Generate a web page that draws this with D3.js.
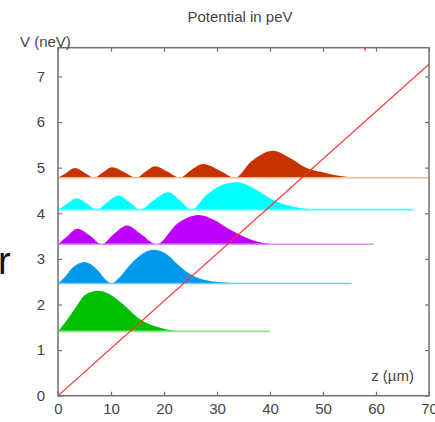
<!DOCTYPE html>
<html>
<head>
<meta charset="UTF-8">
<title>Potential in peV</title>
<script src="https://d3js.org/d3.v7.min.js"></script>
<style>
    body { margin: 0; background: #fff; }
    text { font-family: "Liberation Sans", Arial, sans-serif; fill: #444; }
    .tick text { font-size: 15px; fill: #444; }
</style>
</head>
<body>
<div id="chart"></div>
<script>
    // energy levels (baselines) and colours of the five states
    const levels = [1.41, 2.46, 3.32, 4.08, 4.78];
    const fillColors = ["#00c000", "#0099ee", "#c000ff", "#00ffff", "#c83200"];
    const lineColors = ["#8fe08f", "#80c4ff", "#e08cff", "#4dffff", "#f4b896"];
    // where the thin baseline of each state ends (z, µm)
    const lineEnds = [40, 55.4, 59.5, 67, 70];

    // probability density: [z, height above baseline]
    const state1 = [[0,0],[1.3,0.19],[3.2,0.5],[5.1,0.8],[7.6,0.89],[10,0.8],[12,0.62],[15.2,0.29],[18.3,0.11],[20.5,0.04],[22.4,0.01]];
    const state2 = [[0,0],[1.2,0.13],[2.6,0.33],[5,0.47],[7.4,0.3],[9,0.08],[10.1,0],[11.5,0.12],[14,0.46],[18,0.74],[21,0.6],[22.3,0.45],[24.6,0.23],[27,0.1],[29,0.05],[31.5,0.02],[33.7,0.005]];
    const state3 = [[0,0],[1.6,0.16],[3.7,0.34],[6,0.19],[8.2,0],[10.5,0.22],[13,0.41],[15.8,0.21],[18.6,0],[22.5,0.45],[26.5,0.64],[29.5,0.53],[32,0.35],[35,0.17],[37.5,0.06],[40,0.01]];
    const state4 = [[0,0],[1.6,0.12],[3.5,0.25],[5.5,0.13],[7.3,0],[9.3,0.16],[11.4,0.31],[13.5,0.16],[15.5,0],[18,0.2],[20.8,0.38],[23,0.2],[25.2,0],[28,0.32],[30.5,0.52],[33.8,0.6],[37.5,0.43],[40.6,0.21],[43.8,0.08],[46,0.03],[48.5,0.005]];
    const state5 = [[0,0],[1.5,0.1],[3.2,0.21],[5,0.11],[6.8,0],[8.5,0.12],[10.2,0.23],[12.5,0.12],[14.8,0],[16.5,0.13],[18.3,0.25],[20.7,0.13],[23,0],[25,0.16],[27.4,0.3],[30.5,0.16],[33.4,0],[36.5,0.36],[40.6,0.59],[43.5,0.45],[46.9,0.21],[50.7,0.1],[53,0.04],[55,0.01]];
    const states = [state1, state2, state3, state4, state5];

    // gravitational potential V = m g z
    const potential = [[0, 0], [70, 7.27]];
    const strayMark = [[57.8, 7.66], [58.0, 7.57]];

    const xTicks = [0, 10, 20, 30, 40, 50, 60, 70];
    const yTicks = [0, 1, 2, 3, 4, 5, 6, 7];

    const W = 435, H = 422;
    const mLeft = 58, mRight = 429, mTop = 47.7, mBottom = 395.7;

    const svg = d3.select("#chart").append("svg")
        .attr("width", W).attr("height", H);

    const x = d3.scaleLinear().domain([0, 70]).range([mLeft, mRight]);
    const y = d3.scaleLinear().domain([0, 7.63]).range([mBottom, mTop]);

    svg.append("clipPath").attr("id", "plot")
        .append("rect")
        .attr("x", mLeft).attr("y", mTop)
        .attr("width", mRight - mLeft).attr("height", mBottom - mTop);

    const plot = svg.append("g").attr("clip-path", "url(#plot)");

    // wavefunction bands
    states.forEach((pts, i) => {
        const base = levels[i];
        const area = d3.area()
            .x(d => x(d[0]))
            .y0(y(base))
            .y1(d => y(base + d[1]))
            .curve(d3.curveMonotoneX);
        plot.append("path")
            .datum(pts)
            .attr("d", area)
            .attr("fill", fillColors[i]);
        plot.append("line")
            .attr("x1", x(0)).attr("x2", x(lineEnds[i]))
            .attr("y1", y(base)).attr("y2", y(base))
            .attr("stroke", lineColors[i])
            .attr("stroke-width", 1.6);
    });

    // potential line
    const line = d3.line().x(d => x(d[0])).y(d => y(d[1]));
    plot.append("path")
        .datum(potential)
        .attr("d", line)
        .attr("fill", "none")
        .attr("stroke", "#ff3030")
        .attr("stroke-width", 1.2);
    plot.append("path")
        .datum(strayMark)
        .attr("d", line)
        .attr("fill", "none")
        .attr("stroke", "#ff2020")
        .attr("stroke-width", 1.5);

    // axes, ticks pointing inward
    const axisColor = "#707070";
    function styleAxis(g) {
        g.select(".domain").remove();
        g.selectAll(".tick line").attr("stroke", axisColor).attr("stroke-width", 1.2);
    }
    svg.append("g")
        .attr("transform", `translate(0,${mBottom})`)
        .call(d3.axisBottom(x).tickValues(xTicks).tickSizeInner(-4).tickSizeOuter(0).tickPadding(8))
        .call(styleAxis)
        .selectAll("text").attr("font-size", 15);
    svg.append("g")
        .attr("transform", `translate(${mLeft},0)`)
        .call(d3.axisLeft(y).tickValues(yTicks).tickSizeInner(-4).tickSizeOuter(0).tickPadding(13))
        .call(styleAxis)
        .selectAll("text").attr("font-size", 15);
    svg.append("g")
        .attr("transform", `translate(0,${mTop})`)
        .call(d3.axisTop(x).tickValues(xTicks).tickSizeInner(-4).tickSizeOuter(0).tickFormat(""))
        .call(styleAxis);
    svg.append("g")
        .attr("transform", `translate(${mRight},0)`)
        .call(d3.axisRight(y).tickValues(yTicks).tickSizeInner(-4).tickSizeOuter(0).tickFormat(""))
        .call(styleAxis);

    // frame
    svg.append("rect")
        .attr("x", mLeft).attr("y", mTop)
        .attr("width", mRight - mLeft).attr("height", mBottom - mTop)
        .attr("fill", "none")
        .attr("stroke", axisColor)
        .attr("stroke-width", 1.5);

    // labels
    svg.append("text")
        .attr("x", 240).attr("y", 22)
        .attr("text-anchor", "middle")
        .attr("font-size", 15)
        .text("Potential in peV");
    svg.append("text")
        .attr("x", 20).attr("y", 47)
        .attr("font-size", 15)
        .text("V (neV)");
    svg.append("text")
        .attr("x", 414).attr("y", 381)
        .attr("text-anchor", "end")
        .attr("font-size", 15)
        .text("z (µm)");

    // cut-off letter at the left edge
    svg.append("text")
        .attr("x", -2).attr("y", 274)
        .attr("font-size", 38)
        .style("fill", "#111")
        .text("r");
</script>
</body>
</html>
